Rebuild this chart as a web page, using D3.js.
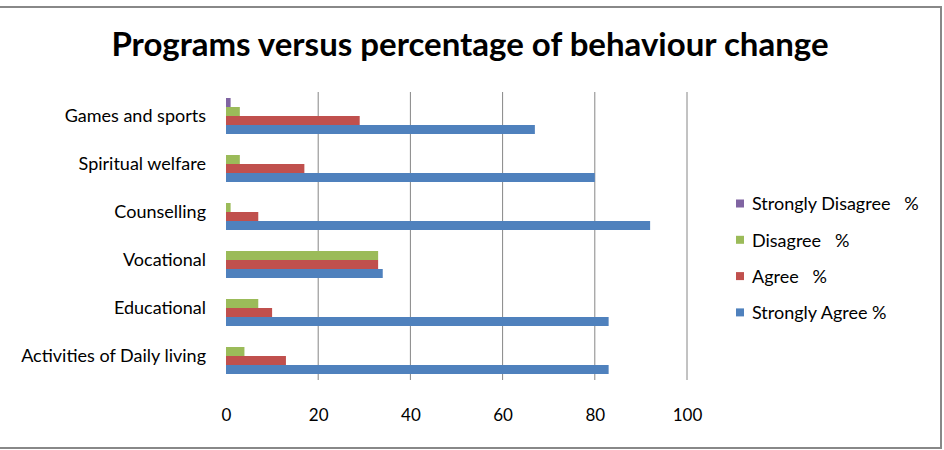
<!DOCTYPE html>
<html>
<head>
<meta charset="utf-8">
<script src="https://cdn.jsdelivr.net/npm/d3@7"></script>
<style>
  body { margin: 0; background: #fff; }
  text { font-family: Lato, "Open Sans", sans-serif; fill: #000; }
</style>
</head>
<body>
<div id="chart"></div>
<script>
// categories, top to bottom
const programs = ['Games and sports', 'Spiritual welfare', 'Counselling',
    'Vocational', 'Educational', 'Activities of Daily living'];

// series, in the order they are stacked inside a group (top to bottom)
const seriesNames = ['Strongly Disagree   %', 'Disagree   %', 'Agree   %', 'Strongly Agree %'];
const stronglyDisagree = [1, 0, 0, 0, 0, 0];
const disagree = [3, 3, 1, 33, 7, 4];
const agree = [29, 17, 7, 33, 10, 13];
const stronglyAgree = [67, 80, 92, 34, 83, 83];

const xTicks = [0, 20, 40, 60, 80, 100];

const colors = ['#8064A2', '#9BBB59', '#C0504D', '#4F81BD'];

const width = 944, height = 450;
const plot = { left: 226, right: 687, top: 92, bottom: 380 };

const svg = d3.select('#chart').append('svg')
    .attr('width', width)
    .attr('height', height);

// outer frame
svg.append('rect')
    .attr('x', -1).attr('y', 7)
    .attr('width', 942).attr('height', 441)
    .attr('fill', '#fff')
    .attr('stroke', '#888')
    .attr('stroke-width', 2);

// title
svg.append('text')
    .attr('x', 470).attr('y', 56)
    .attr('text-anchor', 'middle')
    .style('font-size', '33px')
    .style('font-weight', 'bold')
    .text('Programs versus percentage of behaviour change');

const xScale = d3.scaleLinear()
    .domain([0, 100])
    .range([plot.left, plot.right]);

const yScale = d3.scaleBand()
    .domain(programs)
    .range([plot.top, plot.bottom])
    .paddingInner(0.25)
    .paddingOuter(0.125);

const inner = d3.scaleBand()
    .domain(seriesNames)
    .range([0, yScale.bandwidth()]);

// gridlines
svg.append('g')
    .selectAll('line')
    .data(xTicks.filter(d => d > 0))
    .join('line')
    .attr('x1', d => xScale(d)).attr('x2', d => xScale(d))
    .attr('y1', plot.top).attr('y2', plot.bottom)
    .attr('stroke', '#868686')
    .attr('stroke-width', 1);

// x axis labels
const xAxis = d3.axisBottom(xScale).tickValues(xTicks).tickSize(0).tickPadding(0);
const xAxisGroup = svg.append('g')
    .attr('transform', `translate(0, ${plot.bottom + 29})`)
    .call(xAxis);
xAxisGroup.select('.domain').remove();
xAxisGroup.selectAll('text')
    .style('font-size', '17px')
    .style('font-family', 'Lato, sans-serif');

// y axis labels
const yAxis = d3.axisLeft(yScale).tickSize(0).tickPadding(20);
const yAxisGroup = svg.append('g')
    .attr('transform', `translate(${plot.left}, 0)`)
    .call(yAxis);
yAxisGroup.select('.domain').remove();
yAxisGroup.selectAll('text')
    .style('font-size', '18px')
    .style('font-family', 'Lato, sans-serif');

// bars
const seriesValues = [stronglyDisagree, disagree, agree, stronglyAgree];
const barData = [];
programs.forEach((p, i) => {
    seriesNames.forEach((s, j) => {
        barData.push({ program: p, series: s, value: seriesValues[j][i], color: colors[j] });
    });
});

svg.append('g')
    .selectAll('rect')
    .data(barData.filter(d => d.value > 0))
    .join('rect')
    .attr('x', xScale(0))
    .attr('y', d => yScale(d.program) + inner(d.series))
    .attr('width', d => xScale(d.value) - xScale(0))
    .attr('height', inner.bandwidth())
    .attr('fill', d => d.color);

// legend
const legend = svg.append('g')
    .attr('transform', 'translate(736, 204)');

const legendItems = legend.selectAll('g')
    .data(seriesNames)
    .join('g')
    .attr('transform', (d, i) => `translate(0, ${i * 36.3})`);

legendItems.append('rect')
    .attr('x', 0).attr('y', -4.5)
    .attr('width', 8).attr('height', 8)
    .attr('fill', (d, i) => colors[i]);

legendItems.append('text')
    .attr('x', 16).attr('y', 0)
    .attr('dy', '0.35em')
    .style('font-size', '18px')
    .style('white-space', 'pre')
    .text(d => d);
</script>
</body>
</html>
